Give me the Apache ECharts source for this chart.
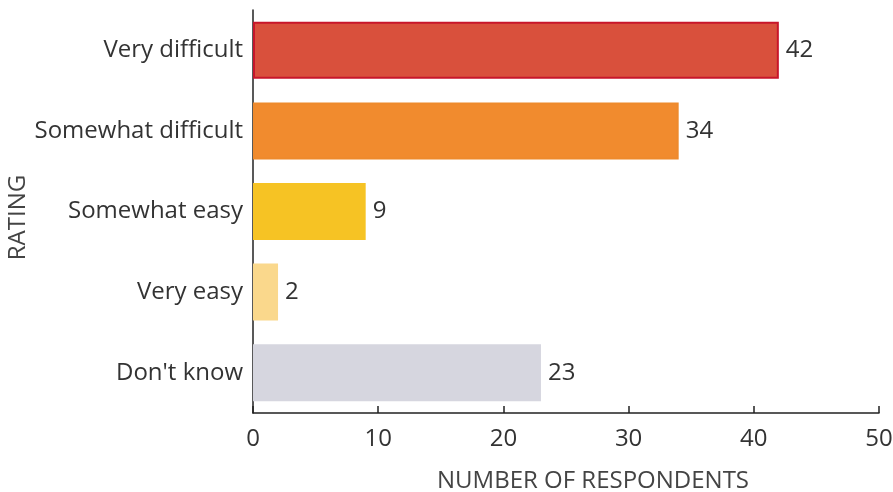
<!DOCTYPE html>
<html>
<head>
<meta charset="utf-8">
<script src="https://cdn.jsdelivr.net/npm/echarts@6/dist/echarts.min.js"></script>
<style>
  html, body { margin: 0; padding: 0; background: #fff; }
  #chart { width: 893px; height: 492px; }
</style>
</head>
<body>
<div id="chart"></div>
<script>
// Survey ratings and respondent counts
const categories = ['Very difficult', 'Somewhat difficult', 'Somewhat easy', 'Very easy', "Don't know"];
const respondents = [42, 34, 9, 2, 23];
const barColors = ['#d9503c', '#f18b2e', '#f6c324', '#fad88c', '#d6d6df'];
const barBorders = ['#c8162a', '#ee8a2c', '#f6c324', '#fad88c', '#d6d6df'];
const xTicks = [0, 10, 20, 30, 40, 50];

const chart = echarts.init(document.getElementById('chart'));
const font = '"Open Sans", "Noto Sans", sans-serif';

chart.setOption({
  animation: false,
  grid: { left: 253, right: 14, top: 10, bottom: 79, containLabel: false, outerBoundsMode: 'none' },
  xAxis: {
    type: 'value',
    min: xTicks[0],
    max: xTicks[xTicks.length - 1],
    interval: 10,
    name: 'NUMBER OF RESPONDENTS',
    nameLocation: 'middle',
    nameGap: 56,
    nameMoveOverlap: false,
    nameTextStyle: { color: '#444', fontSize: 24, fontFamily: font, padding: [0, 0, 0, 54] },
    axisLine: { show: true, lineStyle: { color: '#222', width: 1.5 } },
    axisTick: { show: true, inside: true, length: 7, lineStyle: { color: '#222', width: 1.5 } },
    axisLabel: { color: '#333', fontSize: 24, fontFamily: font, margin: 14 },
    splitLine: { show: false }
  },
  yAxis: {
    type: 'category',
    data: categories,
    inverse: true,
    name: 'RATING',
    nameLocation: 'middle',
    nameGap: 223,
    nameRotate: 90,
    nameMoveOverlap: false,
    nameTextStyle: { color: '#444', fontSize: 24, fontFamily: font, padding: [0, 12, 0, 0] },
    axisLine: { show: true, lineStyle: { color: '#222', width: 1.5 } },
    axisTick: { show: false },
    axisLabel: { color: '#333', fontSize: 24, fontFamily: font, margin: 10 }
  },
  series: [{
    type: 'bar',
    barWidth: 57,
    data: respondents.map((v, i) => ({
      value: v,
      itemStyle: { color: barColors[i], borderColor: barBorders[i], borderWidth: 2 }
    })),
    label: {
      show: true,
      position: 'right',
      distance: 7,
      color: '#333',
      fontSize: 24,
      fontFamily: font
    }
  }]
});
</script>
</body>
</html>
